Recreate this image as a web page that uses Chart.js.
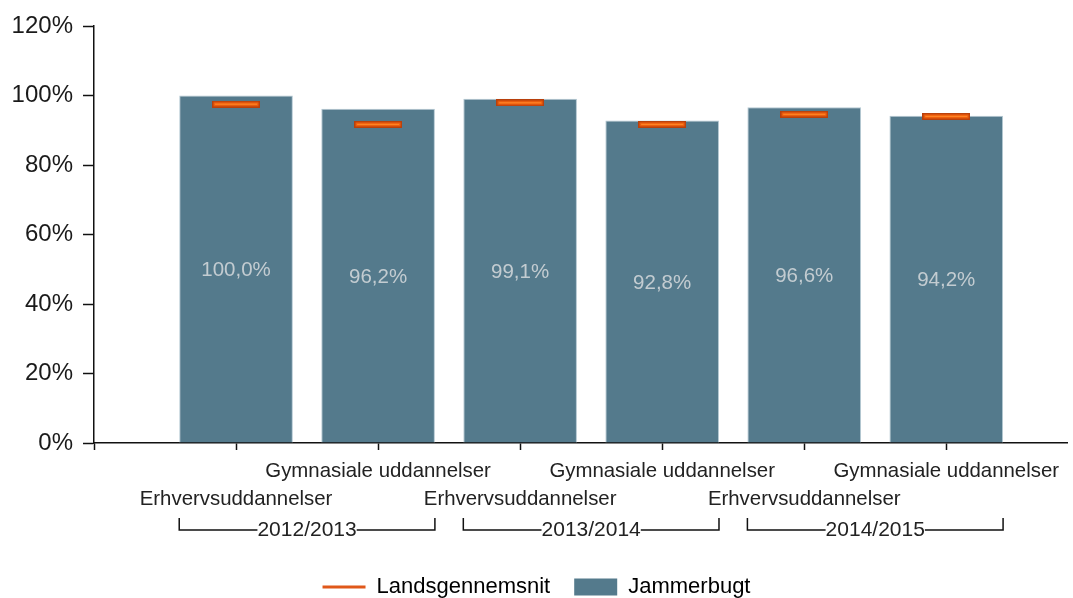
<!DOCTYPE html>
<html><head><meta charset="utf-8">
<script src="https://cdn.jsdelivr.net/npm/chart.js@4.4.0/dist/chart.umd.min.js"></script>
<style>html,body{margin:0;padding:0;background:#fff;overflow:hidden;}canvas{display:block;}</style>
</head><body><canvas id="c" width="1073" height="598" style="width:1073px;height:598px"></canvas>
<script>
const years = ['2012/2013', '2013/2014', '2014/2015'];
const programs = ['Erhvervsuddannelser', 'Gymnasiale uddannelser'];
const jammerbugt = [100.0, 96.2, 99.1, 92.8, 96.6, 94.2];
const landsgennemsnit = [97.5, 91.7, 97.9, 91.7, 94.6, 94.0];
const yTicks = [0, 20, 40, 60, 80, 100, 120];

const FONT = '"Liberation Sans", Arial, sans-serif';
const BAR = '#547a8c';

function makeMarker() {
  const c = document.createElement('canvas');
  c.width = 48; c.height = 7;
  const g = c.getContext('2d');
  g.fillStyle = '#b8400c'; g.fillRect(0, 0, 48, 7);
  g.fillStyle = '#f2600e'; g.fillRect(1.5, 1.5, 45, 4);
  g.fillStyle = '#ff8a2a'; g.fillRect(3, 3, 42, 1);
  return c;
}
const marker = makeMarker();

// label for each x position: index 0 empty, then alternating programmes within years
const xLabels = [''];
years.forEach(() => programs.forEach(p => xLabels.push(p)));

const valueLabels = {
  id: 'valueLabels',
  afterDatasetsDraw(chart) {
    const meta = chart.getDatasetMeta(1);
    const ctx = chart.ctx;
    ctx.save();
    ctx.font = '20.5px ' + FONT;
    ctx.fillStyle = '#c3ccd1';
    ctx.textAlign = 'center';
    ctx.textBaseline = 'middle';
    meta.data.forEach((el, i) => {
      const v = jammerbugt[i];
      ctx.fillText(v.toFixed(1).replace('.', ',') + '%', el.x, (el.y + el.base) / 2 + 1.5);
    });
    ctx.restore();
  }
};

const groupBrackets = {
  id: 'groupBrackets',
  afterDraw(chart) {
    const meta = chart.getDatasetMeta(1);
    const ctx = chart.ctx;
    const b = chart.chartArea.bottom;
    ctx.save();
    ctx.strokeStyle = '#111';
    ctx.lineWidth = 1.5;
    ctx.font = '21px ' + FONT;
    ctx.fillStyle = '#222';
    ctx.textAlign = 'center';
    ctx.textBaseline = 'middle';
    years.forEach((yr, g) => {
      const a = meta.data[2 * g], c = meta.data[2 * g + 1];
      const l = a.x - a.width / 2, r = c.x + c.width / 2;
      const yTop = b + 75, yBot = b + 87;
      const mid = (l + r) / 2;
      const tw = ctx.measureText(yr).width;
      ctx.beginPath();
      ctx.moveTo(l, yTop); ctx.lineTo(l, yBot); ctx.lineTo(mid - tw / 2, yBot);
      ctx.moveTo(mid + tw / 2, yBot); ctx.lineTo(r, yBot); ctx.lineTo(r, yTop);
      ctx.stroke();
      ctx.fillText(yr, mid, yBot);
    });
    ctx.restore();
  }
};

new Chart(document.getElementById('c'), {
  type: 'bar',
  data: {
    datasets: [
      {
        type: 'line',
        label: 'Landsgennemsnit',
        data: landsgennemsnit.map((v, i) => ({ x: i + 1, y: v })),
        showLine: false,
        pointStyle: marker,
        pointRadius: 5,
        pointHoverRadius: 5,
        borderColor: '#e0581a',
        backgroundColor: '#e0581a'
      },
      {
        type: 'bar',
        label: 'Jammerbugt',
        data: jammerbugt.map((v, i) => ({ x: i + 1, y: v })),
        backgroundColor: BAR,
        borderColor: '#b4c8d2',
        borderWidth: 1,
        barPercentage: 0.8,
        categoryPercentage: 1
      }
    ]
  },
  options: {
    responsive: false,
    maintainAspectRatio: false,
    devicePixelRatio: 1,
    animation: false,
    layout: { padding: { top: 26, right: 0, left: 0, bottom: -10 } },
    scales: {
      x: {
        type: 'linear',
        min: 0,
        max: 6.85,
        offset: false,
        afterBuildTicks(scale) { scale.ticks = xLabels.map((_, i) => ({ value: i })); },
        afterFit(scale) { scale.height = 109; scale.paddingRight = 0; scale.paddingLeft = 0; },
        grid: { offset: false, drawOnChartArea: false, drawTicks: true, tickLength: 7, tickColor: '#111', tickWidth: 1.5 },
        border: { display: true, color: '#111', width: 1.5 },
        ticks: {
          autoSkip: false,
          maxRotation: 0,
          padding: 7,
          color: '#222',
          font: { family: FONT, size: 20.4, lineHeight: 28 / 20.4 },
          callback(v) {
            const lab = xLabels[v] || '';
            if (!lab) return '';
            return (v % 2 === 1) ? ['', lab] : [lab];
          }
        }
      },
      y: {
        min: 0,
        max: 120,
        afterBuildTicks(scale) { scale.ticks = yTicks.map(v => ({ value: v })); },
        afterFit(scale) { scale.width = 94; },
        grid: { drawOnChartArea: false, drawTicks: true, tickLength: 11, tickColor: '#111', tickWidth: 1.5 },
        border: { display: true, color: '#111', width: 1.5 },
        ticks: {
          padding: 10,
          color: '#1a1a1a',
          font: { family: FONT, size: 24 },
          callback: v => v + '%'
        }
      }
    },
    plugins: {
      tooltip: { enabled: false },
      legend: {
        position: 'bottom',
        labels: {
          usePointStyle: true,
          pointStyleWidth: 43,
          boxHeight: 17,
          padding: 24,
          color: '#222',
          font: { family: FONT, size: 22 },
          generateLabels: () => [
            { text: 'Landsgennemsnit', pointStyle: 'line', strokeStyle: '#e0581a', fillStyle: '#e0581a', lineWidth: 3, hidden: false, datasetIndex: 0 },
            { text: 'Jammerbugt', pointStyle: 'rect', strokeStyle: BAR, fillStyle: BAR, lineWidth: 0, hidden: false, datasetIndex: 1 }
          ]
        }
      }
    }
  },
  plugins: [valueLabels, groupBrackets]
});
</script>
</body></html>
